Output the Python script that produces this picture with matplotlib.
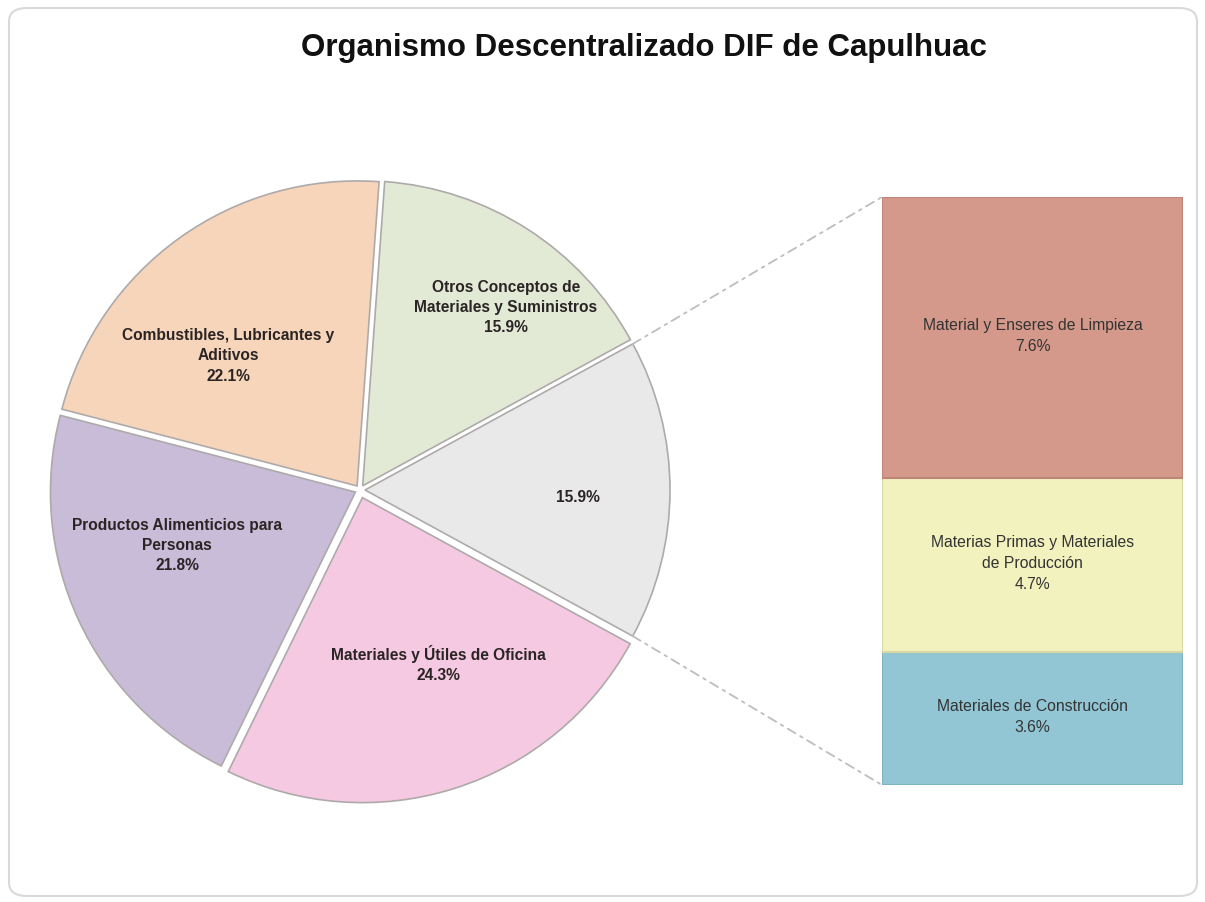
import numpy as np
import matplotlib
matplotlib.use("Agg")
import matplotlib.pyplot as plt
from matplotlib.patches import FancyBboxPatch, ConnectionPatch

plt.rcParams['font.family'] = ['Liberation Sans', 'DejaVu Sans']

# pie data (clockwise from the top)
pie_labels = ["Otros Conceptos de\nMateriales y Suministros", "",
              "Materiales y Útiles de Oficina",
              "Productos Alimenticios para\nPersonas",
              "Combustibles, Lubricantes y\nAditivos"]
pie_values = [15.9, 15.9, 24.3, 21.8, 22.1]
pie_colors = ["#E2EAD5", "#E9E9E9", "#F5C9E1", "#C8BCD8", "#F6D5BB"]

# bar data (bottom to top), breakdown of the grey slice
bar_labels = ["Materiales de Construcción",
              "Materias Primas y Materiales\nde Producción",
              "Material y Enseres de Limpieza"]
bar_values = [3.6, 4.7, 7.6]
bar_colors = ["#92C6D5", "#F2F2BF", "#D4998A"]
bar_edges = ["#7FB3C2", "#D8D8A4", "#BF8677"]

W, H = 1205, 902
fig = plt.figure(figsize=(W / 100, H / 100), dpi=100)

# rounded frame
frame = FancyBboxPatch((9 / W, 6 / H), 1188 / W, 888 / H,
                       boxstyle="round,pad=0,rounding_size=0.015",
                       transform=fig.transFigure, facecolor="none",
                       edgecolor="#D9D9D9", linewidth=1.5, zorder=-10)
fig.patches.append(frame)

ax = fig.add_axes([0, 0, 1, 1])
ax.patch.set_visible(False)

cx, cy, r = 360, H - 490, 305
gray_share = pie_values[1] / sum(pie_values) * 360
start = gray_share / 2 + pie_values[0] / sum(pie_values) * 360

# explode is in data units (pixels here)
wedges, _ = ax.pie(pie_values, colors=pie_colors, startangle=start,
                   counterclock=False, center=(cx, cy), radius=r,
                   explode=[5, 5, 8, 5, 5],
                   wedgeprops=dict(edgecolor="#AEAAAA", linewidth=1.2),
                   frame=True)
ax.set_xlim(0, W)
ax.set_ylim(0, H)
ax.set_aspect("equal")
ax.axis("off")

label_frac = [0.75, 0.70, 0.60, 0.61, 0.60]
label_shift = [-6, -2, 7, -8, 9]
for w, lab, val, fr, sh in zip(wedges, pie_labels, pie_values, label_frac, label_shift):
    mid = np.deg2rad((w.theta1 + w.theta2) / 2 + sh)
    x = w.center[0] + fr * r * np.cos(mid)
    y = w.center[1] + fr * r * np.sin(mid)
    txt = f"{lab}\n{val}%" if lab else f"{val}%"
    ax.text(x, y, txt, ha="center", va="center", fontsize=11.2,
            fontweight="bold", color="#2A2424", linespacing=1.45)

ax.text(644, H - 48, "Organismo Descentralizado DIF de Capulhuac",
        ha="center", va="center", fontsize=22.5, fontweight="bold",
        color="#111111")

# stacked bar
bx = fig.add_axes([882 / W, (H - 785) / H, 301 / W, 588 / H])
bottom = 0
for lab, val, col, ec in zip(bar_labels, bar_values, bar_colors, bar_edges):
    bx.bar(0, val, width=1, bottom=bottom, color=col,
           edgecolor=ec, linewidth=1.5)
    bx.text(0, bottom + val / 2 + 0.05, f"{lab}\n{val}%", ha="center",
            va="center", fontsize=11.3, color="#333333", linespacing=1.5)
    bottom += val
bx.set_xlim(-0.5, 0.5)
bx.set_ylim(0, bottom)
bx.axis("off")

# connectors from grey slice edge to bar
gw = wedges[1]
for ang, yb in [(gw.theta2, 1), (gw.theta1, 0)]:
    a = np.deg2rad(ang)
    pa = (gw.center[0] + r * np.cos(a), gw.center[1] + r * np.sin(a))
    con = ConnectionPatch(xyA=pa, coordsA=ax.transData, xyB=(0, yb),
                          coordsB=bx.transAxes, color="#BDBDBD",
                          linewidth=1.3, linestyle=(0, (5, 3, 1.5, 3)))
    fig.add_artist(con)

fig.savefig("out.png", dpi=100, facecolor="white")
